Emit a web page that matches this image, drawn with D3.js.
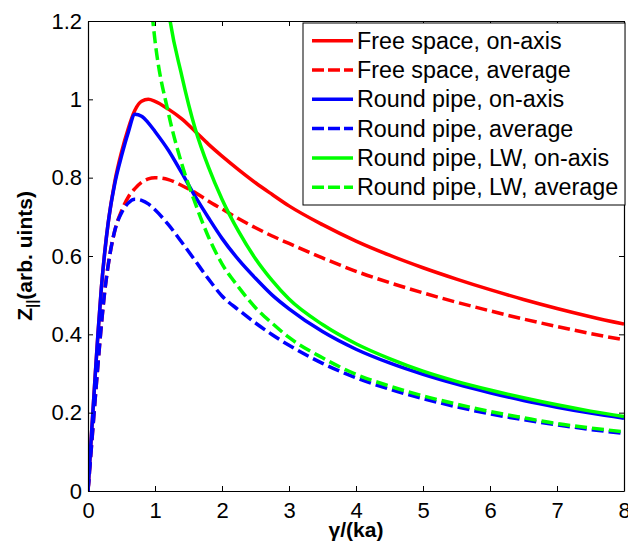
<!DOCTYPE html>
<html>
<head>
<meta charset="utf-8">
<script src="https://cdn.jsdelivr.net/npm/d3@7"></script>
<style>
  body { margin: 0; background: #fff; }
  text { font-family: "Liberation Sans", Arial, sans-serif; }
</style>
</head>
<body>
<div id="chart"></div>
<script>
// x values shared by every series (gamma/(ka))
const xGrid = [0, 0.05, 0.1, 0.15, 0.2, 0.25, 0.3, 0.4, 0.5, 0.6, 0.7, 0.8, 0.9, 1.0, 1.2, 1.4, 1.6, 1.8, 2.0,
               2.25, 2.5, 2.75, 3, 3.5, 4, 4.5, 5, 5.5, 6, 6.5, 7, 7.5, 8]

// values (null = off the top of the plot)
const freeOnAxis  = [0, 0.14, 0.275, 0.405, 0.52, 0.61, 0.683, 0.79, 0.865, 0.925, 0.972, 0.995, 1.0, 0.995, 0.975, 0.95,
                     0.918, 0.885, 0.855, 0.82, 0.787, 0.757, 0.728, 0.68, 0.638, 0.602, 0.570, 0.541, 0.514, 0.489, 0.466, 0.445, 0.426]
const freeAverage = [0, 0.11, 0.22, 0.325, 0.425, 0.51, 0.575, 0.665, 0.715, 0.75, 0.772, 0.788, 0.797, 0.80, 0.795, 0.78,
                     0.762, 0.74, 0.72, 0.695, 0.672, 0.651, 0.632, 0.595, 0.561, 0.532, 0.506, 0.482, 0.460, 0.439, 0.420, 0.402, 0.386]
const pipeOnAxis  = [0, 0.14, 0.275, 0.405, 0.52, 0.61, 0.683, 0.785, 0.855, 0.915, 0.962, 0.957, 0.94, 0.918, 0.87, 0.812,
                     0.752, 0.697, 0.645, 0.59, 0.543, 0.50, 0.465, 0.407, 0.362, 0.327, 0.298, 0.273, 0.251, 0.231, 0.214, 0.199, 0.186]
const pipeAverage = [0, 0.11, 0.22, 0.325, 0.425, 0.51, 0.575, 0.665, 0.71, 0.735, 0.745, 0.742, 0.733, 0.718, 0.68, 0.635,
                     0.588, 0.541, 0.498, 0.462, 0.429, 0.399, 0.372, 0.326, 0.289, 0.260, 0.236, 0.215, 0.197, 0.182, 0.169, 0.157, 0.147]
const lwOnAxis    = [null, null, null, null, null, null, null, null, null, null, null, null, null, 1.58, 1.23, 1.06,
                     0.925, 0.826, 0.745, 0.662, 0.593, 0.537, 0.49, 0.425, 0.376, 0.338, 0.306, 0.28, 0.258, 0.238, 0.22, 0.204, 0.19]
const lwAverage   = [null, null, null, null, null, null, null, null, null, null, null, 1.52, 1.32, 1.15, 0.965, 0.835,
                     0.735, 0.648, 0.58, 0.52, 0.468, 0.428, 0.392, 0.34, 0.298, 0.268, 0.243, 0.222, 0.203, 0.187, 0.172, 0.161, 0.151]

const seriesNames = ["Free space, on-axis", "Free space, average", "Round pipe, on-axis",
                     "Round pipe, average", "Round pipe, LW, on-axis", "Round pipe, LW, average"]
const seriesValues = [freeOnAxis, freeAverage, pipeOnAxis, pipeAverage, lwOnAxis, lwAverage]
const seriesColours = ["#ff0000", "#ff0000", "#0000ff", "#0000ff", "#00ff00", "#00ff00"]
const seriesDashed = [false, true, false, true, false, true]

const xTicks = [0, 1, 2, 3, 4, 5, 6, 7, 8]
const yTicks = [0, 0.2, 0.4, 0.6, 0.8, 1, 1.2]

const width = 628, height = 544
const plotLeft = 88, plotRight = 624, plotTop = 21, plotBottom = 491

const svg = d3.select("#chart").append("svg")
    .attr("width", width)
    .attr("height", height)

const xScale = d3.scaleLinear().domain([0, 8]).range([plotLeft, plotRight])
const yScale = d3.scaleLinear().domain([0, 1.2]).range([plotBottom, plotTop])

svg.append("clipPath").attr("id", "plotclip")
  .append("rect")
    .attr("x", plotLeft).attr("y", plotTop)
    .attr("width", plotRight - plotLeft).attr("height", plotBottom - plotTop)

// curves
const line = d3.line()
    .defined(d => d[1] != null)
    .x(d => xScale(d[0]))
    .y(d => yScale(d[1]))
    .curve(d3.curveMonotoneX)

const plot = svg.append("g").attr("clip-path", "url(#plotclip)")
seriesValues.forEach(function (vals, i) {
    const pts = xGrid.map((x, j) => [x, vals[j]])
    plot.append("path")
        .attr("d", line(pts))
        .attr("fill", "none")
        .attr("stroke", seriesColours[i])
        .attr("stroke-width", 3.5)
        .attr("stroke-dasharray", seriesDashed[i] ? "12,5" : null)
})

// axes, ticks pointing inward on all four sides
function styleAxis(g) {
    g.select(".domain").attr("stroke", "#000").attr("stroke-width", 1.2)
    g.selectAll(".tick line").attr("stroke", "#000")
    g.selectAll(".tick text")
        .attr("fill", "#000")
        .style("font-family", "'Liberation Sans', Arial, sans-serif")
        .style("font-size", "22px")
}

svg.append("g")
    .attr("transform", `translate(0,${plotBottom})`)
    .call(d3.axisBottom(xScale).tickValues(xTicks).tickSize(-5).tickSizeOuter(0).tickPadding(11)
        .tickFormat(d3.format("~g")))
    .call(styleAxis)

svg.append("g")
    .attr("transform", `translate(0,${plotTop})`)
    .call(d3.axisTop(xScale).tickValues(xTicks).tickSize(-5).tickSizeOuter(0).tickFormat(""))
    .call(styleAxis)

svg.append("g")
    .attr("transform", `translate(${plotLeft},0)`)
    .call(d3.axisLeft(yScale).tickValues(yTicks).tickSize(-5).tickSizeOuter(0).tickPadding(6)
        .tickFormat(d3.format("~g")))
    .call(styleAxis)

svg.append("g")
    .attr("transform", `translate(${plotRight},0)`)
    .call(d3.axisRight(yScale).tickValues(yTicks).tickSize(-5).tickSizeOuter(0).tickFormat(""))
    .call(styleAxis)

// axis labels
svg.append("text")
    .attr("x", (plotLeft + plotRight) / 2)
    .attr("y", 537)
    .attr("text-anchor", "middle")
    .style("font-size", "21px")
    .style("font-weight", "bold")
    .text("γ/(ka)")

const yLabel = svg.append("text")
    .attr("transform", `translate(32,${(plotTop + plotBottom) / 2}) rotate(-90)`)
    .attr("text-anchor", "middle")
    .style("font-size", "21px")
    .style("font-weight", "bold")
yLabel.append("tspan").text("Z")
yLabel.append("tspan").attr("dy", 5).style("font-size", "15px").text("||")
yLabel.append("tspan").attr("dy", -5).text("(arb. uints)")

// legend
const legend = svg.append("g")
legend.append("rect")
    .attr("x", 303).attr("y", 23)
    .attr("width", 322).attr("height", 182)
    .attr("fill", "#fff")
    .attr("stroke", "#000")
    .attr("stroke-width", 1)

seriesNames.forEach(function (name, i) {
    const cy = 40.7 + i * 29.3
    legend.append("line")
        .attr("x1", 312).attr("x2", 353)
        .attr("y1", cy).attr("y2", cy)
        .attr("stroke", seriesColours[i])
        .attr("stroke-width", 3.5)
        .attr("stroke-dasharray", seriesDashed[i] ? "12,4" : null)
    legend.append("text")
        .attr("x", 357)
        .attr("y", cy)
        .attr("dy", "0.35em")
        .style("font-size", "23.3px")
        .text(name)
})
</script>
</body>
</html>
